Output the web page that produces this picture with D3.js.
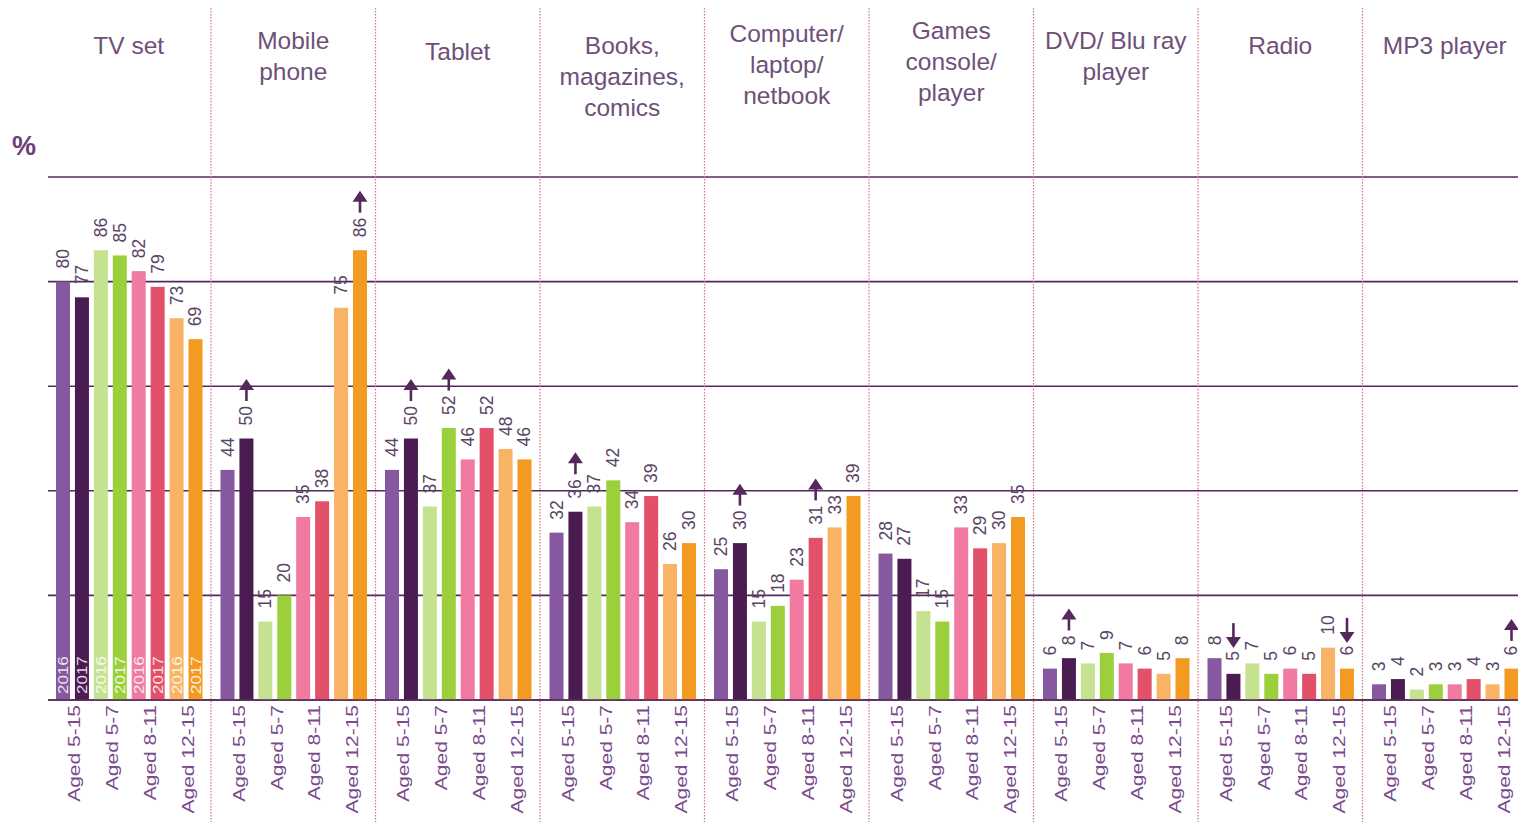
<!DOCTYPE html>
<html><head><meta charset="utf-8">
<script src="https://cdn.jsdelivr.net/npm/d3@7"></script>
<style>
html,body{margin:0;padding:0;background:#fff;}
svg{display:block;font-family:"Liberation Sans",Arial,sans-serif;}
</style></head>
<body>
<svg id="chart" width="1518" height="822"></svg>
<script>
// ---------- DATA ----------
const categories = ["TV set","Mobile phone","Tablet","Books, magazines, comics","Computer/ laptop/ netbook","Games console/ player","DVD/ Blu ray player","Radio","MP3 player"];
const titleLines = [["TV set"],["Mobile","phone"],["Tablet"],["Books,","magazines,","comics"],["Computer/","laptop/","netbook"],["Games","console/","player"],["DVD/ Blu ray","player"],["Radio"],["MP3 player"]];
const ageGroups = ["Aged 5-15","Aged 5-7","Aged 8-11","Aged 12-15"];
const years = ["2016","2017"];
const seriesKeys = ["5-15 2016","5-15 2017","5-7 2016","5-7 2017","8-11 2016","8-11 2017","12-15 2016","12-15 2017"];
const s5_15_2016  = [80,44,44,32,25,28,6,8,3];
const s5_15_2017  = [77,50,50,36,30,27,8,5,4];
const s5_7_2016   = [86,15,37,37,15,17,7,7,2];
const s5_7_2017   = [85,20,52,42,18,15,9,5,3];
const s8_11_2016  = [82,35,46,34,23,33,7,6,3];
const s8_11_2017  = [79,38,52,39,31,29,6,5,4];
const s12_15_2016 = [73,75,48,26,33,30,5,10,3];
const s12_15_2017 = [69,86,46,30,39,35,8,6,6];
const seriesValues = [s5_15_2016,s5_15_2017,s5_7_2016,s5_7_2017,s8_11_2016,s8_11_2017,s12_15_2016,s12_15_2017];
const seriesColors = ["#8558a0","#4b1c52","#c4e290","#9ccf3c","#f07aa0","#e3506a","#f8b365","#f39a22"];
// significant changes (category index, series index, direction)
const arrowCats   = [1,1,2,2,3,4,4,6,7,7,8];
const arrowSeries = [1,7,1,3,1,1,5,1,1,7,7];
const arrowDirs   = ["up","up","up","up","up","up","up","up","down","down","up"];
const yTicks = [0,20,40,60,80,100];

// ---------- LAYOUT ----------
const svg = d3.select("#chart");
const groupStep = 164.5, x0 = 46.5;
const x = d3.scaleBand().domain(categories).range([x0, x0 + groupStep*categories.length]).padding(0);
const xi = d3.scaleBand().domain(seriesKeys).range([9.5, 156]).paddingInner(0.26).paddingOuter(0);
const y = d3.scaleLinear().domain([0,100]).range([700,177]);
const titleCenterY = [45,40,51,45,33,30,40,45,45];

const gridColor = "#55285c";
const textColor = "#6e5079";
const numColor = "#5a4566";
const axisColor = "#7a4a8c";

// gridlines
svg.append("g").selectAll("line").data(yTicks).join("line")
  .attr("x1",48).attr("x2",1518)
  .attr("y1",d=>y(d)).attr("y2",d=>y(d))
  .attr("stroke",gridColor).attr("stroke-width",1.6);

// dividers
svg.append("g").selectAll("line").data(categories.slice(1)).join("line")
  .attr("x1",d=>x(d)).attr("x2",d=>x(d))
  .attr("y1",8).attr("y2",822)
  .attr("stroke","#d6708c").attr("stroke-width",1.2).attr("stroke-dasharray","1.5,1.5");

// % label
svg.append("text").attr("x",12).attr("y",155).text("%")
  .attr("font-size",27).attr("font-weight","bold").attr("fill","#6b3f78");

// titles
categories.forEach((c,ci)=>{
  const g = svg.append("text").attr("text-anchor","middle").attr("fill",textColor)
    .attr("font-size",24.5).attr("dominant-baseline","central");
  titleLines[ci].forEach((ln,li)=>{
    g.append("tspan").attr("x", x(c)+x.bandwidth()/2).attr("y", titleCenterY[ci] + li*31).text(ln);
  });
});

// bars
const flat = [];
categories.forEach((c,ci)=>seriesKeys.forEach((k,si)=>flat.push({c,ci,k,si,v:seriesValues[si][ci]})));
const bx = d => x(d.c) + xi(d.k);
svg.append("g").selectAll("rect").data(flat).join("rect")
  .attr("x",bx).attr("width",xi.bandwidth())
  .attr("y",d=>y(d.v)).attr("height",d=>y(0)-y(d.v))
  .attr("fill",d=>seriesColors[d.si]);

// baseline redraw
svg.append("line").attr("x1",48).attr("x2",1518).attr("y1",y(0)).attr("y2",y(0))
  .attr("stroke",gridColor).attr("stroke-width",1.6);

// value labels
const labelGap = 13;
const labels = svg.append("g").selectAll("text").data(flat).join("text")
  .attr("transform",d=>`translate(${bx(d)+xi.bandwidth()/2},${y(d.v)-labelGap}) rotate(-90)`)
  .attr("dominant-baseline","central")
  .attr("font-size",17.5).attr("fill",numColor).text(d=>d.v);
const labelLen = {};
labels.each(function(d){ labelLen[d.ci+"_"+d.si] = this.getComputedTextLength(); });

// year labels inside first group
svg.append("g").selectAll("text").data(flat.filter(d=>d.ci===0)).join("text")
  .attr("transform",d=>`translate(${bx(d)+xi.bandwidth()/2},${y(0)-6}) rotate(-90) scale(1,0.85)`)
  .attr("dominant-baseline","central").attr("font-size",17)
  .attr("fill","#fff").attr("fill-opacity",0.85)
  .text(d=>years[d.si%2]);

// arrows
const ag = svg.append("g").attr("fill",gridColor).attr("stroke",gridColor);
arrowCats.forEach((ci,i)=>{
  const si = arrowSeries[i];
  const k = seriesKeys[si], c = categories[ci];
  const cx = x(c)+xi(k)+xi.bandwidth()/2;
  const v = seriesValues[si][ci];
  const top = y(v) - labelGap - labelLen[ci+"_"+si];
  const bottom = top - 5, tipUp = bottom - 22;
  if (arrowDirs[i]==="up"){
    ag.append("line").attr("x1",cx).attr("x2",cx).attr("y1",bottom).attr("y2",tipUp+8).attr("stroke-width",2.6);
    ag.append("path").attr("stroke","none").attr("d",`M${cx-7.5},${tipUp+11}L${cx},${tipUp}L${cx+7.5},${tipUp+11}Z`);
  } else {
    const tip = top - 3, start = tip - 25;
    ag.append("line").attr("x1",cx).attr("x2",cx).attr("y1",start).attr("y2",tip-8).attr("stroke-width",2.6);
    ag.append("path").attr("stroke","none").attr("d",`M${cx-7.5},${tip-11}L${cx},${tip}L${cx+7.5},${tip-11}Z`);
  }
});

// x-axis labels (age groups)
const axisData = [];
categories.forEach((c,ci)=>ageGroups.forEach((a,ai)=>axisData.push({c,a,ai})));
svg.append("g").selectAll("text").data(axisData).join("text")
  .attr("transform",d=>{
    const cx = x(d.c) + (xi(seriesKeys[d.ai*2]) + xi(seriesKeys[d.ai*2+1]) + xi.bandwidth())/2 + 2;
    return `translate(${cx},${y(0)+5}) rotate(-90) scale(1,0.8)`;
  })
  .attr("text-anchor","end").attr("dominant-baseline","central")
  .attr("font-size",21).attr("fill",axisColor).text(d=>d.a);
</script>
</body></html>
